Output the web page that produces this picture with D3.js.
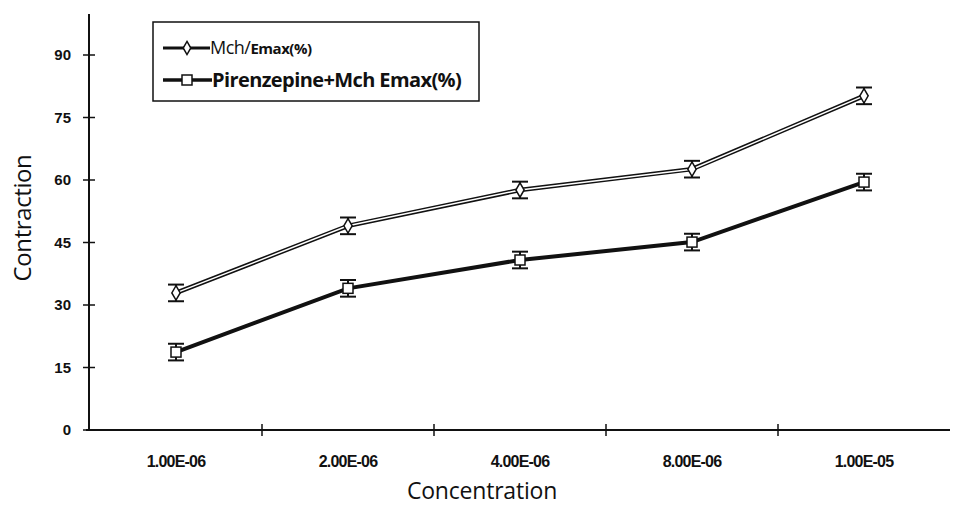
<!DOCTYPE html>
<html>
<head>
<meta charset="utf-8">
<script src="https://cdn.jsdelivr.net/npm/d3@7"></script>
<style>
  body { margin: 0; background: #fff; }
  text { fill: #111; }
</style>
</head>
<body>
<script>
const concentrations = ["1.00E-06", "2.00E-06", "4.00E-06", "8.00E-06", "1.00E-05"];
const mchValues = [32.9, 49.0, 57.6, 62.6, 80.2];
const mchErrors = [2.0, 2.0, 2.0, 2.0, 2.0];
const pirValues = [18.7, 34.0, 40.8, 45.1, 59.5];
const pirErrors = [2.0, 2.0, 2.0, 2.0, 2.0];
const yTicks = [0, 15, 30, 45, 60, 75, 90];

const width = 953, height = 506;
const svg = d3.select("body").append("svg")
    .attr("width", width)
    .attr("height", height);

const x = d3.scaleBand().domain(concentrations).range([90, 950]);
const y = d3.scaleLinear().domain([0, 90]).range([430, 55]);

// axes
svg.append("line")
    .attr("x1", 89).attr("x2", 89)
    .attr("y1", 14).attr("y2", y(0))
    .attr("stroke", "#111").attr("stroke-width", 2);
svg.append("line")
    .attr("x1", 86).attr("x2", 950)
    .attr("y1", y(0)).attr("y2", y(0))
    .attr("stroke", "#111").attr("stroke-width", 2);

svg.selectAll(".ytick").data(yTicks).enter().append("line")
    .attr("x1", 83).attr("x2", 95)
    .attr("y1", d => y(d)).attr("y2", d => y(d))
    .attr("stroke", "#111").attr("stroke-width", 1.5);
svg.selectAll(".ylab").data(yTicks).enter().append("text")
    .attr("x", 71).attr("y", d => y(d) + 5)
    .attr("text-anchor", "end")
    .style("font", "bold 15px 'Liberation Sans', Arial, sans-serif")
    .text(d => d);

// x ticks at band boundaries
svg.selectAll(".xtick").data(concentrations.slice(1)).enter().append("line")
    .attr("x1", d => x(d)).attr("x2", d => x(d))
    .attr("y1", y(0) - 6).attr("y2", y(0) + 6)
    .attr("stroke", "#111").attr("stroke-width", 1.5);
svg.selectAll(".xlab").data(concentrations).enter().append("text")
    .attr("x", d => x(d) + x.bandwidth() / 2)
    .attr("y", 467)
    .attr("text-anchor", "middle")
    .style("font", "bold 16px 'Liberation Sans', Arial, sans-serif")
    .style("letter-spacing", "-0.8px")
    .text(d => d);

svg.append("text")
    .attr("x", 482).attr("y", 499)
    .attr("text-anchor", "middle")
    .style("font", "23px 'Open Sans', sans-serif")
    .style("letter-spacing", "-0.2px")
    .text("Concentration");
svg.append("text")
    .attr("transform", "translate(31,218) rotate(-90)")
    .attr("text-anchor", "middle")
    .style("font", "24px 'Open Sans', sans-serif")
    .style("letter-spacing", "-0.4px")
    .text("Contraction");

const cx = d => x(d) + x.bandwidth() / 2;
const line = d3.line().x(d => cx(d[0])).y(d => y(d[1]));

const mch = concentrations.map((c, i) => [c, mchValues[i], mchErrors[i]]);
const pir = concentrations.map((c, i) => [c, pirValues[i], pirErrors[i]]);

// error bars
function errorBars(data) {
    const g = svg.append("g").attr("stroke", "#111").attr("stroke-width", 2);
    data.forEach(d => {
        g.append("line").attr("x1", cx(d[0])).attr("x2", cx(d[0]))
            .attr("y1", y(d[1] + d[2])).attr("y2", y(d[1] - d[2]));
        [d[1] + d[2], d[1] - d[2]].forEach(v => {
            g.append("line").attr("x1", cx(d[0]) - 8).attr("x2", cx(d[0]) + 8)
                .attr("y1", y(v)).attr("y2", y(v));
        });
    });
}
errorBars(mch);
errorBars(pir);

// Mch line: double stroke
svg.append("path").datum(mch).attr("d", line)
    .attr("fill", "none").attr("stroke", "#111").attr("stroke-width", 4.5);
svg.append("path").datum(mch).attr("d", line)
    .attr("fill", "none").attr("stroke", "#fff").attr("stroke-width", 1.5);
// Pirenzepine line
svg.append("path").datum(pir).attr("d", line)
    .attr("fill", "none").attr("stroke", "#111").attr("stroke-width", 4);

// markers
svg.selectAll(".mchpt").data(mch).enter().append("path")
    .attr("d", d3.symbol().type(d3.symbolDiamond).size(60))
    .attr("transform", d => `translate(${cx(d[0])},${y(d[1])})`)
    .attr("fill", "#fff").attr("stroke", "#111").attr("stroke-width", 1.5);
svg.selectAll(".pirpt").data(pir).enter().append("rect")
    .attr("x", d => cx(d[0]) - 5).attr("y", d => y(d[1]) - 5)
    .attr("width", 10).attr("height", 10)
    .attr("fill", "#fff").attr("stroke", "#111").attr("stroke-width", 1.5);

// legend
const lg = svg.append("g");
lg.append("rect").attr("x", 153).attr("y", 22).attr("width", 326).attr("height", 79)
    .attr("fill", "#fff").attr("stroke", "#111").attr("stroke-width", 1.5);
lg.append("line").attr("x1", 163).attr("x2", 210).attr("y1", 48).attr("y2", 48)
    .attr("stroke", "#111").attr("stroke-width", 3);
lg.append("path").attr("d", d3.symbol().type(d3.symbolDiamond).size(50))
    .attr("transform", "translate(187,48)")
    .attr("fill", "#fff").attr("stroke", "#111").attr("stroke-width", 1.5);
lg.append("line").attr("x1", 163).attr("x2", 212).attr("y1", 80).attr("y2", 80)
    .attr("stroke", "#111").attr("stroke-width", 3.5);
lg.append("rect").attr("x", 182).attr("y", 75).attr("width", 10).attr("height", 10)
    .attr("fill", "#fff").attr("stroke", "#111").attr("stroke-width", 1.5);

const t1 = lg.append("text").attr("x", 210).attr("y", 54);
t1.append("tspan").style("font", "18px 'Open Sans', sans-serif").style("letter-spacing", "-0.5px").text("Mch/");
t1.append("tspan").style("font", "bold 15px 'Open Sans', sans-serif").style("letter-spacing", "-0.5px").text("Emax(%)");
lg.append("text").attr("x", 212).attr("y", 87)
    .style("font", "bold 20px 'Open Sans', sans-serif")
    .style("letter-spacing", "-0.6px")
    .text("Pirenzepine+Mch Emax(%)");
</script>
</body>
</html>
